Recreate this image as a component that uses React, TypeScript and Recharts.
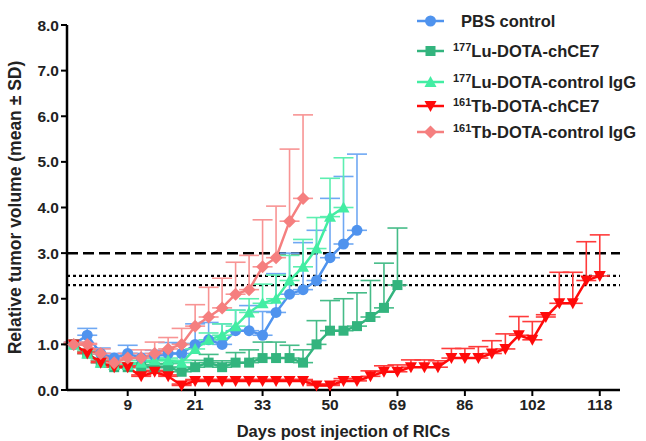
import {
    LineChart,
    Line,
    XAxis,
    YAxis,
    ErrorBar,
    ReferenceLine,
    Legend,
} from "recharts";

// time points are evenly spaced in the figure, one slot per measurement
const tickSlots = [4, 9, 14, 19, 24, 29, 34, 39];
const tickDays = ["9", "21", "33", "50", "69", "86", "102", "118"];
const yTicks = [0, 1, 2, 3, 4, 5, 6, 7, 8];
const thresholdDashed = [3.0];
const thresholdDotted = [2.5, 2.3];

const pbsMean = [1.0, 1.2, 0.8, 0.7, 0.8, 0.7, 0.75, 0.8, 0.8, 1.0, 1.1, 1.0, 1.3, 1.3, 1.2, 1.7, 2.1, 2.2, 2.4, 2.9, 3.2, 3.5];
const pbsSd = [0.05, 0.15, 0.12, 0.1, 0.18, 0.1, 0.12, 0.24, 0.22, 0.45, 0.38, 0.45, 0.45, 0.55, 0.52, 0.85, 0.9, 1.03, 1.1, 1.3, 1.48, 1.67];

const luCe7Mean = [1.0, 0.8, 0.6, 0.5, 0.5, 0.5, 0.5, 0.5, 0.4, 0.5, 0.6, 0.5, 0.6, 0.6, 0.7, 0.7, 0.7, 0.6, 1.0, 1.3, 1.3, 1.4, 1.6, 1.8, 2.3];
const luCe7Sd = [0.02, 0.05, 0.05, 0.05, 0.05, 0.05, 0.05, 0.08, 0.1, 0.15, 0.18, 0.14, 0.22, 0.28, 0.35, 0.35, 0.28, 0.28, 0.52, 0.66, 0.7, 0.73, 0.8, 0.98, 1.25];

const luIgGMean = [1.0, 0.8, 0.6, 0.55, 0.55, 0.6, 0.65, 0.65, 0.6, 0.9, 1.1, 1.2, 1.4, 1.7, 1.9, 2.0, 2.4, 2.7, 3.1, 3.8, 4.0];
const luIgGSd = [0.02, 0.05, 0.05, 0.05, 0.05, 0.05, 0.05, 0.05, 0.05, 0.1, 0.15, 0.25, 0.35, 0.3, 0.42, 0.52, 0.55, 0.6, 0.68, 0.84, 1.09];

const tbCe7Mean = [1.0, 0.8, 0.6, 0.5, 0.5, 0.3, 0.4, 0.3, 0.1, 0.2, 0.2, 0.2, 0.2, 0.2, 0.2, 0.2, 0.2, 0.2, 0.1, 0.1, 0.2, 0.2, 0.3, 0.4, 0.4, 0.5, 0.5, 0.5, 0.7, 0.7, 0.7, 0.8, 0.9, 1.2, 1.1, 1.6, 1.9, 1.9, 2.4, 2.5];
const tbCe7Sd = [0.03, 0.03, 0.03, 0.03, 0.03, 0.03, 0.03, 0.03, 0.03, 0.03, 0.03, 0.03, 0.03, 0.03, 0.03, 0.03, 0.03, 0.03, 0.03, 0.03, 0.05, 0.05, 0.12, 0.13, 0.15, 0.16, 0.16, 0.14, 0.21, 0.21, 0.25, 0.28, 0.33, 0.41, 0.4, 0.05, 0.68, 0.68, 0.85, 0.9];

const tbIgGMean = [1.0, 1.0, 0.8, 0.6, 0.7, 0.7, 0.8, 0.9, 1.0, 1.4, 1.6, 1.8, 2.1, 2.2, 2.7, 2.9, 3.7, 4.2];
const tbIgGSd = [0.05, 0.02, 0.1, 0.08, 0.1, 0.18, 0.25, 0.25, 0.35, 0.47, 0.65, 0.65, 0.7, 0.75, 1.03, 1.13, 1.58, 1.83];

const FONT = '"Liberation Sans", Arial, sans-serif';

const series = [
    { key: "pbs", mean: pbsMean, sd: pbsSd, color: "#4f93ee", errColor: "#6fa8f3", shape: "circle", name: "PBS control", sup: "" },
    { key: "luCe7", mean: luCe7Mean, sd: luCe7Sd, color: "#33b47e", errColor: "#45bc88", shape: "square", name: "Lu-DOTA-chCE7", sup: "177" },
    { key: "luIgG", mean: luIgGMean, sd: luIgGSd, color: "#43eda3", errColor: "#5cefb0", shape: "up", name: "Lu-DOTA-control IgG", sup: "177" },
    { key: "tbCe7", mean: tbCe7Mean, sd: tbCe7Sd, color: "#ff0a0a", errColor: "#ff3b3b", shape: "down", name: "Tb-DOTA-chCE7", sup: "161" },
    { key: "tbIgG", mean: tbIgGMean, sd: tbIgGSd, color: "#f57f7f", errColor: "#f89494", shape: "diamond", name: "Tb-DOTA-control IgG", sup: "161" },
];

const data = tbCe7Mean.map((_, i) => {
    const row: Record<string, any> = { slot: i };
    series.forEach((s) => {
        row[s.key] = s.mean[i] ?? null;
        row[s.key + "Err"] = s.sd[i] != null ? [0, s.sd[i]] : null;
    });
    return row;
});

const Marker = ({ shape, x, y, color }: { shape: string; x: number; y: number; color: string }) => {
    if (shape === "circle") return <circle cx={x} cy={y} r={5.5} fill={color} />;
    if (shape === "square") return <rect x={x - 5} y={y - 5} width={10} height={10} fill={color} />;
    if (shape === "up") return <path d={`M${x},${y - 6} L${x + 6},${y + 5} L${x - 6},${y + 5} Z`} fill={color} />;
    if (shape === "down") return <path d={`M${x - 6},${y - 5} L${x + 6},${y - 5} L${x},${y + 6} Z`} fill={color} />;
    return <path d={`M${x},${y - 6.5} L${x + 6.5},${y} L${x},${y + 6.5} L${x - 6.5},${y} Z`} fill={color} />;
};

const makeDot = (shape: string, color: string) => (props: any) => {
    const { cx, cy, index, value } = props;
    if (cx == null || cy == null || value == null) return <g key={index} />;
    return (
        <g key={index}>
            <Marker shape={shape} x={cx} y={cy} color={color} />
        </g>
    );
};

const rowCenters = [21, 51, 82, 106, 132];

const renderLegend = () => (
    <div style={{ position: "relative", width: 646, height: 150, fontFamily: FONT, fontWeight: "bold", color: "#222" }}>
        {series.map((s, i) => (
            <div key={s.key}>
                <svg style={{ position: "absolute", left: 414, top: rowCenters[i] - 8 }} width={34} height={16}>
                    <line x1={3} y1={8} x2={30} y2={8} stroke={s.color} strokeWidth={2.5} />
                    <Marker shape={s.shape} x={16.5} y={8} color={s.color} />
                </svg>
                <div
                    style={{
                        position: "absolute",
                        left: s.sup ? 453 : 461,
                        top: rowCenters[i] - 10,
                        fontSize: 16.5,
                        lineHeight: "20px",
                        whiteSpace: "nowrap",
                    }}
                >
                    {s.sup && <sup style={{ fontSize: 11, verticalAlign: "6px", lineHeight: 0 }}>{s.sup}</sup>}
                    {s.name}
                </div>
            </div>
        ))}
    </div>
);

const TumorVolumeChart = () => {
    return (
        <div style={{ position: "absolute", left: 0, top: 0, background: "#fff" }}>
            <LineChart width={646} height={441} data={data} margin={{ top: 25, right: 26, left: 7, bottom: 1 }}>
                <XAxis
                    dataKey="slot"
                    type="number"
                    domain={[-0.5, 40.5]}
                    ticks={tickSlots}
                    tickFormatter={(v) => tickDays[tickSlots.indexOf(v)] ?? ""}
                    height={50}
                    axisLine={{ stroke: "#000", strokeWidth: 2.5 }}
                    tickLine={{ stroke: "#000", strokeWidth: 2 }}
                    tickSize={6}
                    tickMargin={3}
                    tick={{ fill: "#222", fontSize: 15.5, fontWeight: "bold", fontFamily: FONT }}
                    label={{
                        value: "Days post injection of RICs",
                        position: "insideBottom",
                        offset: 3,
                        fill: "#222",
                        fontSize: 16.5,
                        fontWeight: "bold",
                        fontFamily: FONT,
                    }}
                />
                <YAxis
                    type="number"
                    domain={[0, 8]}
                    ticks={yTicks}
                    tickFormatter={(v) => v.toFixed(1)}
                    width={60}
                    axisLine={{ stroke: "#000", strokeWidth: 2.5 }}
                    tickLine={{ stroke: "#000", strokeWidth: 2 }}
                    tickSize={6}
                    tick={{ fill: "#222", fontSize: 15.5, fontWeight: "bold", fontFamily: FONT }}
                    label={{
                        value: "Relative tumor volume (mean \u00b1 SD)",
                        angle: -90,
                        position: "insideLeft",
                        offset: 8,
                        style: { textAnchor: "middle" },
                        fill: "#222",
                        fontSize: 17.5,
                        fontWeight: "bold",
                        fontFamily: FONT,
                    }}
                />
                {thresholdDashed.map((v) => (
                    <ReferenceLine key={v} y={v} stroke="#000" strokeWidth={2.5} strokeDasharray="11 5" />
                ))}
                {thresholdDotted.map((v) => (
                    <ReferenceLine key={v} y={v} stroke="#000" strokeWidth={2.2} strokeDasharray="3 3" />
                ))}
                {series.map((s) => (
                    <Line
                        key={s.key}
                        dataKey={s.key}
                        stroke={s.color}
                        strokeWidth={2.5}
                        dot={makeDot(s.shape, s.color)}
                        activeDot={false}
                        isAnimationActive={false}
                    >
                        <ErrorBar
                            dataKey={s.key + "Err"}
                            direction="y"
                            width={10}
                            stroke={s.errColor}
                            strokeWidth={1.6}
                        />
                    </Line>
                ))}
                <Legend
                    layout="vertical"
                    align="center"
                    verticalAlign="middle"
                    content={renderLegend}
                    wrapperStyle={{ position: "absolute", left: 0, top: 0, width: 646, height: 150, pointerEvents: "none" }}
                />
            </LineChart>
        </div>
    );
};

export default function App() {
    return <TumorVolumeChart />;
}
